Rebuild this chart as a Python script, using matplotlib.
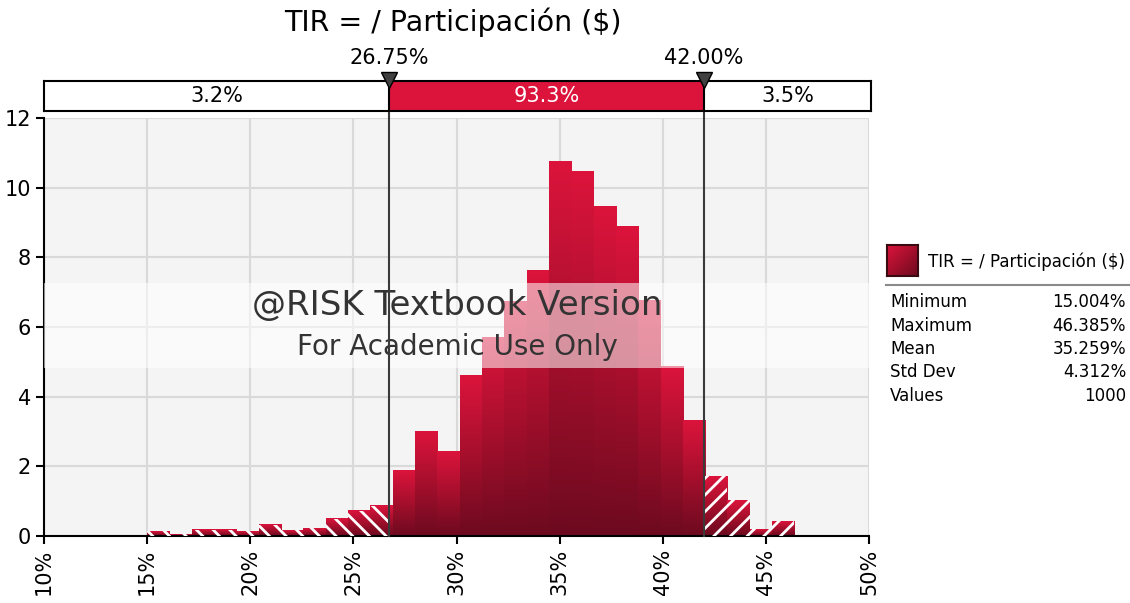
import numpy as np
import matplotlib
matplotlib.use("Agg")
import matplotlib.pyplot as plt
from matplotlib.colors import LinearSegmentedColormap
from matplotlib.patches import Rectangle

# summary stats / delimiters
title = "TIR = / Participación ($)"
minimum = 15.004
maximum = 46.385
stat_labels = ["Minimum", "Maximum", "Mean", "Std Dev", "Values"]
stat_values = ["15.004%", "46.385%", "35.259%", "4.312%", "1000"]
left_cut = 26.75
right_cut = 42.00
band_labels = ["3.2%", "93.3%", "3.5%"]

# histogram heights (29 equal bins from min to max)
heights = [0.13, 0.05, 0.18, 0.18, 0.14, 0.32, 0.16, 0.22, 0.50, 0.72,
           0.87, 1.89, 3.01, 2.43, 4.62, 5.71, 6.74, 7.61, 10.75, 10.47,
           9.46, 8.88, 6.77, 4.88, 3.32, 1.72, 1.03, 0.20, 0.42]

x_ticks = [10, 15, 20, 25, 30, 35, 40, 45, 50]
y_ticks = [0, 2, 4, 6, 8, 10, 12]

W, H = 1130, 603
plt.rcParams["hatch.linewidth"] = 2.0

red_cmap = LinearSegmentedColormap.from_list("bar", ["#6c0a1f", "#a50f2c", "#dc143c"])
grad = np.linspace(0, 1, 256).reshape(-1, 1)

fig = plt.figure(figsize=(W / 100, H / 100), dpi=100)
ax = fig.add_axes([44 / W, 1 - 536 / H, (869 - 44) / W, (536 - 118) / H])
ax.set_facecolor("#f4f4f4")

edges = np.linspace(minimum, maximum, len(heights) + 1)


def draw_piece(x0, x1, h, hatch=None):
    if x1 <= x0 or h <= 0:
        return
    ax.imshow(grad, cmap=red_cmap, origin="lower", extent=(x0, x1, 0, h),
              aspect="auto", interpolation="bilinear", zorder=2)
    if hatch:
        ax.add_patch(Rectangle((x0, 0), x1 - x0, h, fill=False, hatch=hatch,
                               edgecolor="white", lw=0, zorder=3))


for i, h in enumerate(heights):
    a, b = edges[i], edges[i + 1]
    # left tail
    draw_piece(a, min(b, left_cut), h, "\\\\")
    # middle
    draw_piece(max(a, left_cut), min(b, right_cut), h)
    # right tail
    draw_piece(max(a, right_cut), b, h, "//")

ax.set_xlim(10, 50)
ax.set_ylim(0, 12)
ax.set_xticks(x_ticks)
ax.set_xticklabels([f"{t}%" for t in x_ticks], rotation=90)
ax.set_yticks(y_ticks)
ax.tick_params(labelsize=15, length=6, width=1.5, color="black")
ax.grid(color="#d9d9d9", lw=1.5)
ax.set_axisbelow(True)
for s in ["top", "right"]:
    ax.spines[s].set_visible(False)
for s in ["left", "bottom"]:
    ax.spines[s].set_linewidth(1.5)

# delimiter lines
for c in [left_cut, right_cut]:
    ax.plot([c, c], [0, 12 + 7 / 34.83], color="#3a3a3a", lw=1.5, zorder=7, clip_on=False)

# watermark band
ax.axhspan(4.82, 7.26, color="white", alpha=0.55, zorder=5, lw=0)
ax.text(30.02, 6.63, "@RISK Textbook Version", ha="center", va="center",
        fontsize=24.5, color="#333333", zorder=6)
ax.text(30.02, 5.43, "For Academic Use Only", ha="center", va="center",
        fontsize=20, color="#333333", zorder=6)

# probability band above the plot
bax = fig.add_axes([44 / W, 1 - 111 / H, (871 - 44) / W, 30 / H])
bx1 = 10 + 827 * 40 / 825
bax.set_xlim(10, bx1)
bax.set_ylim(0, 1)
bax.add_patch(Rectangle((10, 0), left_cut - 10, 1, facecolor="white", lw=0))
bax.add_patch(Rectangle((left_cut, 0), right_cut - left_cut, 1, facecolor="#dc143c", lw=0))
bax.add_patch(Rectangle((right_cut, 0), bx1 - right_cut, 1, facecolor="white", lw=0))
for c in [left_cut, right_cut]:
    bax.plot([c, c], [0, 1], color="black", lw=1.5)
bax.set_xticks([])
bax.set_yticks([])
for s in bax.spines.values():
    s.set_linewidth(1.5)
bax.text((10 + left_cut) / 2, 0.5, band_labels[0], ha="center", va="center", fontsize=15)
bax.text((left_cut + right_cut) / 2, 0.5, band_labels[1], ha="center", va="center",
         fontsize=15, color="white")
bax.text((right_cut + bx1) / 2, 0.5, band_labels[2], ha="center", va="center", fontsize=15)
for c in [left_cut, right_cut]:
    bax.plot([c], [1.03], marker="v", markersize=11, color="#404040",
             markeredgecolor="black", clip_on=False, zorder=5)
    bax.text(c, 1.77, f"{c:.2f}%", ha="center", va="center", fontsize=15)

fig.text(453 / W, 1 - 22 / H, title, ha="center", va="center", fontsize=20.5)

# legend / stats
lax = fig.add_axes([887 / W, 1 - 276 / H, 31 / W, 31 / H])
gx, gy = np.meshgrid(np.linspace(0, 1, 64), np.linspace(0, 1, 64))
lax.imshow((gy + (1 - gx)) / 2, cmap=red_cmap, origin="lower", extent=(0, 1, 0, 1), aspect="auto")
lax.set_xticks([])
lax.set_yticks([])
for s in lax.spines.values():
    s.set_linewidth(1.5)
    s.set_color("#3a0a12")
fig.text(928 / W, 1 - 262 / H, title, ha="left", va="center", fontsize=12)
fig.add_artist(plt.Line2D([886 / W, 1129 / W], [1 - 285 / H, 1 - 285 / H],
                          color="#8a8a8a", lw=1.5))
row_y = [302, 326, 349, 372, 396]
for lab, val, yy in zip(stat_labels, stat_values, row_y):
    fig.text(890 / W, 1 - yy / H, lab, ha="left", va="center", fontsize=12)
    fig.text(1126 / W, 1 - yy / H, val, ha="right", va="center", fontsize=12)

fig.savefig("out.png", dpi=100)
